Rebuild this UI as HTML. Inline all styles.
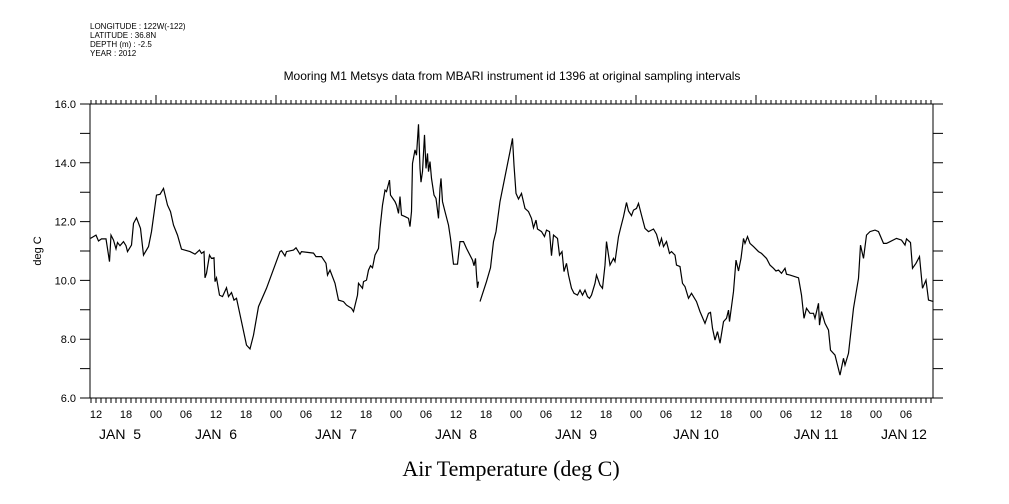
<!DOCTYPE html>
<html><head><meta charset="utf-8"><style>
html,body{margin:0;padding:0;background:#fff;}
svg{display:block;font-family:"Liberation Sans",sans-serif;}
</style></head><body>
<svg id="chart" width="1009" height="504" viewBox="0 0 1009 504" xmlns="http://www.w3.org/2000/svg">
<g font-size="8" fill="#000">
<text x="90" y="29">LONGITUDE : 122W(-122)</text>
<text x="90" y="38">LATITUDE : 36.8N</text>
<text x="90" y="47">DEPTH (m) : -2.5</text>
<text x="90" y="56">YEAR : 2012</text>
</g>
<text x="512" y="80" text-anchor="middle" font-size="12">Mooring M1 Metsys data from MBARI instrument id 1396 at original sampling intervals</text>
<text x="511" y="476" text-anchor="middle" font-size="22" font-family="'Liberation Serif',serif">Air Temperature (deg C)</text>
<text transform="translate(41,251) rotate(-90)" text-anchor="middle" font-size="11">deg C</text>
<g id="axes"></g>
<g id="series"></g>
</svg>
<script>
const hours1=[10.9,12,12.5,13.1,14,14.7,15,15.5,16,16.3,16.8,17.5,18,18.3,19.1,19.5,20.1,20.9,21.5,22.5,23.1,24.1,24.8,25.5,26.3,26.9,27.5,28.3,29.1,30.8,31.8,32.7,33.1,33.6,33.8,34.1,34.7,35.1,35.6,35.8,36.1,36.7,37.3,38.1,38.5,39.1,39.6,40.1,41.1,42.1,42.8,43.5,44.5,46.1,48.8,49.1,49.8,50.1,51.5,52,52.8,53.1,55.5,56,57.1,58,58.3,58.8,59.8,60.5,61.5,62.1,63.1,63.5,64.3,64.5,65.3,65.5,66.1,66.5,66.9,67.3,67.8,68.5,68.8,69.3,69.8,70.1,70.7,70.9,71.8,72.1,72.5,72.8,73.1,73.8,74.5,74.8,75.1,75.3,75.8,76.1,76.5,76.8,77,77.3,77.7,78,78.3,78.5,78.8,79.1,79.6,80,80.5,80.8,81,81.3,81.8,82.5,82.9,83.5,84.3,84.8,85.5,86.1,87.3,87.6,87.9,88.1,88.3,88.5];
const temps1=[11.43,11.54,11.34,11.41,11.41,10.64,11.54,11.37,11.07,11.29,11.18,11.32,11.18,10.98,11.2,11.94,12.13,11.77,10.86,11.15,11.66,12.9,12.93,13.13,12.56,12.34,11.88,11.54,11.06,10.98,10.89,11.03,10.92,10.98,10.09,10.24,10.86,10.75,10.77,9.96,10.09,9.5,9.45,9.75,9.45,9.59,9.33,9.39,8.6,7.8,7.67,8.14,9.11,9.73,10.98,11.01,10.83,10.98,11.03,11.11,10.89,10.98,10.93,10.81,10.81,10.58,10.18,10.35,9.9,9.33,9.28,9.16,9.05,8.94,9.5,9.9,9.73,9.96,10.01,10.35,10.5,10.43,10.86,11.09,11.77,12.56,13.07,13.02,13.41,12.9,12.68,12.56,12.28,12.85,12.22,12.17,12.11,11.83,12.34,13.98,14.44,14.26,15.31,13.81,13.34,13.7,14.95,13.81,14.32,13.7,14.04,13.47,12.9,12.79,12.11,13.13,13.47,12.68,12.34,11.88,11.43,10.55,10.55,11.32,11.32,11.09,10.69,10.5,10.75,10.18,9.75,9.96];
const hours2=[88.8,90.1,90.9,91.5,92,92.8,94.8,95.3,95.6,96,96.5,97.1,97.8,98.5,99.1,99.5,100,100.3,101.1,101.7,102.1,102.7,103.1,103.5,104.3,104.7,105.2,105.6,106.1,106.5,107.1,107.6,108.3,108.8,109.3,109.8,110.3,110.7,111.1,111.8,112.1,112.8,113.3,113.8,114.1,114.8,115.5,115.8,116.5,116.9,117.5,118.1,118.5,119.1,119.5,120.1,120.5,121.1,121.8,122.5,123.5,124.1,124.7,125.1,125.5,126.1,126.7,127.1,127.8,128.1,128.8,129.3,129.8,130.5,131.1,132.1,132.8,133.8,134.5,134.9,135.3,135.8,136.3,136.8,137.5,138.1,138.5,138.7,139.5,140,140.5,141,141.5,141.8,142.3,142.8,143.5,144.5,145.1,146.1,146.8,147.5,148,148.5,149.1,149.8,150.1,150.8,152.5,153.1,153.6,154.1,154.8,155.5,155.8,156.5,156.7,157.1,157.8,158.5,158.9,159.8,160.3,160.8,161.5,161.8,162.5,163.5,164.5,164.9,165.5,166.1,166.8,167.8,168.5,169.5,170.1,172.1,173.1,173.8,174.1,174.9,175.3,176,176.7,177.3,178,178.5,179.5];
const temps2=[9.28,9.96,10.43,11.32,11.66,12.68,14.38,14.83,13.92,12.96,12.77,12.96,12.45,12.34,12.11,11.79,12.05,11.75,11.66,11.49,11.71,11.66,10.84,11.54,11.43,10.86,10.98,10.3,10.58,10.18,9.73,9.56,9.5,9.67,9.5,9.67,9.45,9.39,9.5,9.9,10.18,9.84,9.73,10.52,11.32,10.52,10.75,10.64,11.49,11.77,12.17,12.65,12.36,12.2,12.39,12.45,12.62,12.22,11.77,11.66,11.75,11.57,11.2,11.43,11.15,11.32,10.92,10.98,10.86,10.52,10.47,9.9,9.79,9.39,9.56,9.28,8.94,8.54,8.88,8.91,8.37,7.97,8.26,7.86,8.6,8.71,8.99,8.6,9.62,10.69,10.32,10.75,11.43,11.26,11.49,11.26,11.15,10.98,10.92,10.75,10.52,10.41,10.32,10.35,10.24,10.41,10.21,10.18,10.09,9.5,8.71,9.05,8.88,8.88,8.71,9.22,8.48,8.94,8.54,8.31,7.63,7.46,7.12,6.78,7.35,7.12,7.52,9.05,10.07,11.2,10.75,11.54,11.66,11.71,11.66,11.26,11.26,11.43,11.37,11.2,11.41,11.29,10.41,10.58,10.81,9.73,10.01,9.33,9.28];
const yTicks=[6,7,8,9,10,11,12,13,14,15,16];
const yTickLabels=["6.0","","8.0","","10.0","","12.0","","14.0","","16.0"];
const hourLabels=["00","06","12","18"];
const dayLabels=["JAN  5","JAN  6","JAN  7","JAN  8","JAN  9","JAN 10","JAN 11","JAN 12"];

const NS="http://www.w3.org/2000/svg";
const L=90,R=933,T=104,B=398,H0=36,PXH=5;
const hMin=(L-H0)/PXH,hMax=(R-H0)/PXH;
function xs(h){return H0+h*PXH;}
function ys(v){return B-(v-6)/(16-6)*(B-T);}
const axes=document.getElementById('axes');
const ser=document.getElementById('series');
function mk(tag,attrs,parent){const e=document.createElementNS(NS,tag);for(const k in attrs)e.setAttribute(k,attrs[k]);parent.appendChild(e);return e;}
let frame=mk('rect',{x:L,y:T,width:R-L,height:B-T,fill:'none',stroke:'#000','stroke-width':1},axes);


let d='';
yTicks.forEach((v,i)=>{const y=ys(v);d+=`M${L-10},${y}H${L}M${R},${y}H${R+10}`;
 if(yTickLabels[i]){const t=mk('text',{x:L-14,y:y+4,'text-anchor':'end','font-size':11},axes);t.textContent=yTickLabels[i];
 
 }});
for(let h=Math.ceil(hMin);h<=hMax;h++){const x=xs(h);const major=h%24===0;
 d+=`M${x},${B}V${B+5}M${x},${T}V${T-(major?9:4)}`;
 if(h%6===0){const t=mk('text',{x:x,y:B+20,'text-anchor':'middle','font-size':11},axes);t.textContent=hourLabels[(h%24)/6];
 
 }}
let tk=mk('path',{d:d,stroke:'#000','stroke-width':1,fill:'none'},axes);


dayLabels.forEach((s,i)=>{let x=xs(12+24*i);x=Math.max(L+30,Math.min(R-29,x));
 const t=mk('text',{x:x,y:B+41,'text-anchor':'middle','font-size':14,'xml:space':'preserve'},axes);t.style.whiteSpace='pre';t.textContent=s;
 
 });
function line(hs,vs,name){const p=hs.map((h,i)=>(i?'L':'M')+xs(h).toFixed(1)+','+ys(vs[i]).toFixed(1)).join('');
 const e=mk('path',{d:p,fill:'none',stroke:'#000','stroke-width':1.2,'stroke-linejoin':'miter'},ser);
 
 }
line(hours1,temps1,'temperature-line-segment-1');
line(hours2,temps2,'temperature-line-segment-2');
</script>
</body></html>
